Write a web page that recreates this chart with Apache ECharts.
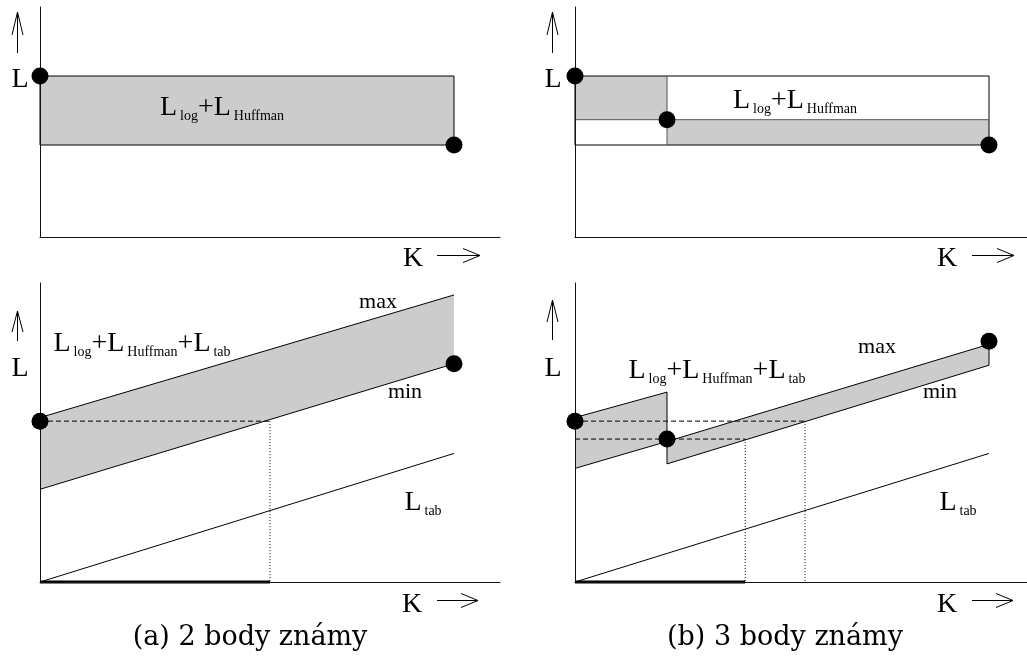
<!DOCTYPE html>
<html><head><meta charset="utf-8">
<script src="https://cdn.jsdelivr.net/npm/echarts@6/dist/echarts.min.js"></script>
<style>html,body{margin:0;padding:0;background:#fff}#c{width:1027px;height:656px}</style>
</head><body><div id="c"></div>
<script>
// ---------- data (abstract units: K 0..100, L 0..100 per panel) ----------
// (a) top: 2 known points
const aTopBand = [[0,70],[90,70],[90,40],[0,40]];
const aTopDots = [[0,70],[90,40]];
// (b) top: 3 known points
const bTopFrame = [[0,70],[90,70],[90,40],[0,40]];
const bTopGrayLeft = [[0,70],[20,70],[20,51],[0,51]];
const bTopGrayRight = [[20,51],[90,51],[90,40],[20,40]];
const bTopMidLine = [[0,51],[90,51]];
const bTopDivider = [[20,70],[20,40]];
const bTopDots = [[0,70],[20,51],[90,40]];
// (a) bottom
const aMax = [[0,55],[90,96]];
const aMin = [[0,31],[90,73]];
const aBand = [[0,55],[90,96],[90,73],[0,31]];
const aTab = [[0,0],[90,43]];
const aDots = [[0,53.8],[90,73]];
const aDashed = [[0,53.8],[50,53.8]];
const aDotted = [[50,53.8],[50,0]];
const aThick = [[0,0],[50,0]];
// (b) bottom
const bSeg1Max = [[0,55],[20,63.5]];
const bSeg1Min = [[0,38],[20,47]];
const bSeg2Max = [[20,47],[90,79.5]];
const bSeg2Min = [[20,39.5],[90,72.5]];
const bBand1 = [[0,55],[20,63.5],[20,47],[0,38]];
const bBand2 = [[20,47],[90,79.5],[90,72.5],[20,39.5]];
const bJump = [[20,63.5],[20,39.5]];
const bEnd = [[90,79.5],[90,72.5]];
const bTab = [[0,0],[90,43]];
const bDots = [[0,53.8],[20,47.8],[90,80.5]];
const bDashHi = [[0,53.8],[50,53.8]];
const bDashLo = [[0,47.8],[37,47.8]];
const bDotted1 = [[37,47.8],[37,0]];
const bDotted2 = [[50,53.8],[50,0]];
const bThick = [[0,0],[37,0]];

const captions = ['(a) 2 body známy', '(b) 3 body známy'];

// ---------- layout ----------
const SERIF = "'Liberation Serif','Times New Roman',serif";
const CAPF = "'DejaVu Serif',serif";
const panels = [
  {left:40, top:7, width:460, height:230},
  {left:575, top:7, width:460, height:230},
  {left:40, top:283, width:460, height:299},
  {left:575, top:283, width:460, height:299}
];
const GRAY = '#cccccc';

function axis(i){
  return {type:'value', gridIndex:i, min:0, max:100,
    axisLine:{show:true,onZero:false,lineStyle:{color:'#111',width:1}},
    axisTick:{show:false}, axisLabel:{show:false}, splitLine:{show:false}, z:5};
}
function line(i, pts, color, width, type){
  return {type:'line', xAxisIndex:i, yAxisIndex:i, data:pts, symbol:'none', showSymbol:false,
    lineStyle:{color:color||'#000', width:width||1, type:type||'solid', opacity:1}, z:3, silent:true, clip:false};
}
function area(i, pts, fill, stroke){
  return {type:'custom', xAxisIndex:i, yAxisIndex:i, data:[pts[0]], z:1, silent:true, clip:false,
    renderItem:(params, api)=>({type:'polygon', shape:{points: pts.map(p=>api.coord(p))},
      style:{fill:fill, stroke:stroke||'none', lineWidth:1}})};
}
function dots(i, pts){
  return {type:'scatter', xAxisIndex:i, yAxisIndex:i, data:pts, symbol:'circle', symbolSize:17,
    itemStyle:{color:'#000', opacity:1, borderWidth:0}, z:10, silent:true, clip:false};
}

const series = [
  // (a) top
  area(0, aTopBand, GRAY, '#000'),
  dots(0, aTopDots),
  // (b) top
  area(1, bTopGrayLeft, GRAY),
  area(1, bTopGrayRight, GRAY),
  line(1, bTopMidLine, '#555'),
  line(1, bTopDivider, '#555'),
  area(1, bTopFrame, 'none', '#000'),
  dots(1, bTopDots),
  // (a) bottom
  area(2, aBand, GRAY),
  line(2, aMax), line(2, aMin), line(2, aTab),
  line(2, aDashed, '#000', 1, [5,3]),
  line(2, aDotted, '#000', 1, [1,2]),
  line(2, aThick, '#000', 3),
  dots(2, aDots),
  // (b) bottom
  area(3, bBand1, GRAY), area(3, bBand2, GRAY),
  line(3, bSeg1Max), line(3, bSeg1Min), line(3, bSeg2Max), line(3, bSeg2Min),
  line(3, bJump), line(3, bEnd), line(3, bTab),
  line(3, bDashHi, '#000', 1, [5,3]),
  line(3, bDashLo, '#000', 1, [5,3]),
  line(3, bDotted1, '#000', 1, [1,2]),
  line(3, bDotted2, '#000', 1, [1,2]),
  line(3, bThick, '#000', 3),
  dots(3, bDots)
];

// ---------- annotations ----------
const rich = {
  b:{fontSize:28, fontFamily:SERIF, lineHeight:30, verticalAlign:'middle', color:'#000'},
  s:{fontSize:14, fontFamily:SERIF, lineHeight:14, verticalAlign:'bottom', color:'#000', padding:[0,0,0,3]}
};
function rtext(x, y, str){
  return {type:'text', z:20, style:{text:str, rich:rich, x:x, y:y, align:'center', verticalAlign:'middle',
    textAlign:'center', textVerticalAlign:'middle'}};
}
function ptext(x, y, str, size, fam){
  return {type:'text', z:20, style:{text:str, x:x, y:y, font:(size)+'px '+(fam||SERIF), fill:'#000',
    align:'center', verticalAlign:'middle', textAlign:'center', textVerticalAlign:'middle'}};
}
function upArrow(x, yTip, yEnd, head){
  return [
    {type:'polyline', z:20, shape:{points:[[x,yTip],[x,yEnd]]}, style:{stroke:'#000', lineWidth:1, fill:null}},
    {type:'polyline', z:20, shape:{points:[[x-5.5,yTip+head],[x,yTip],[x+5.5,yTip+head]]}, style:{stroke:'#000', lineWidth:1, fill:null}}
  ];
}
function rightArrow(x0, x1, y){
  return [
    {type:'polyline', z:20, shape:{points:[[x0,y],[x1,y]]}, style:{stroke:'#000', lineWidth:1, fill:null}},
    {type:'polyline', z:20, shape:{points:[[x1-17,y-7],[x1,y],[x1-17,y+7]]}, style:{stroke:'#000', lineWidth:1, fill:null}}
  ];
}

const graphic = [].concat(
  upArrow(17.5, 12, 53, 23), upArrow(552.5, 12, 53, 23),
  upArrow(17.5, 311, 341, 21), upArrow(552.5, 300, 340, 22),
  rightArrow(437, 480, 255.5), rightArrow(972, 1014, 255.5),
  rightArrow(437, 478, 600.5), rightArrow(972, 1013, 600.5),
  [
    ptext(20, 80, 'L', 28), ptext(553, 80, 'L', 28),
    ptext(20, 369, 'L', 28), ptext(553, 369, 'L', 28),
    ptext(413, 259, 'K', 28), ptext(947, 259, 'K', 28),
    ptext(412, 605, 'K', 28), ptext(947, 605, 'K', 28),
    rtext(222, 108, '{b|L}{s|log}{b|+L}{s|Huffman}'),
    rtext(795, 101, '{b|L}{s|log}{b|+L}{s|Huffman}'),
    rtext(142, 344, '{b|L}{s|log}{b|+L}{s|Huffman}{b|+L}{s|tab}'),
    rtext(717, 371, '{b|L}{s|log}{b|+L}{s|Huffman}{b|+L}{s|tab}'),
    rtext(423, 503, '{b|L}{s|tab}'),
    rtext(958, 503, '{b|L}{s|tab}'),
    ptext(378, 302, 'max', 22), ptext(405, 392, 'min', 22),
    ptext(877, 347, 'max', 22), ptext(940, 392, 'min', 22),
    ptext(250, 638, captions[0], 27, CAPF),
    ptext(785, 638, captions[1], 27, CAPF)
  ]
);

const chart = echarts.init(document.getElementById('c'), null, {renderer:'canvas'});
chart.setOption({
  animation:false,
  backgroundColor:'#fff',
  grid: panels.map(p => Object.assign({containLabel:false, outerBoundsMode:'none'}, p)),
  xAxis: panels.map((p,i)=>Object.assign(axis(i), {position:'bottom'})),
  yAxis: panels.map((p,i)=>Object.assign(axis(i), {position:'left'})),
  series: series,
  graphic: graphic
});
</script>
</body></html>
